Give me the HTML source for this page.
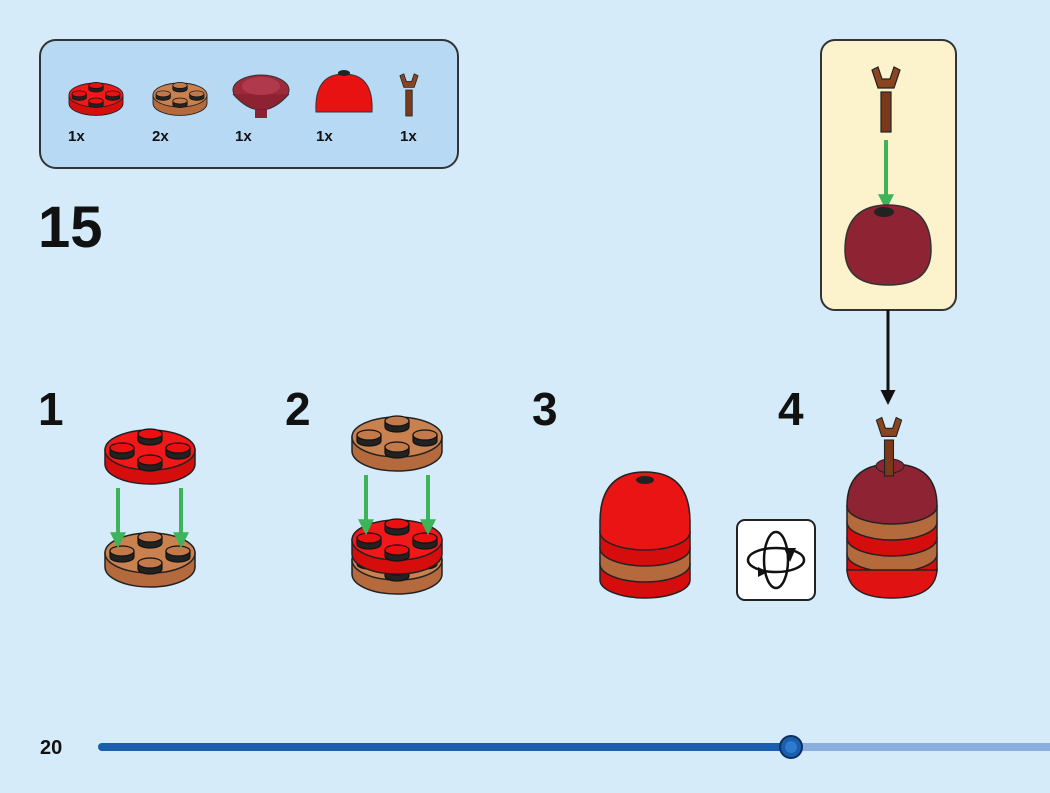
<!DOCTYPE html>
<html><head><style>
body{margin:0;background:#d5ebf9;}
svg{display:block;font-family:"Liberation Sans",sans-serif;}
</style></head><body>
<svg width="1050" height="793" viewBox="0 0 1050 793">
<defs>
<g id="redplate">
 <path d="M-45 0 v14 a45 20 0 0 0 90 0 v-14z" fill="#d60d0d" stroke="#222" stroke-width="1.5"/>
 <ellipse cx="0" cy="0" rx="45" ry="20" fill="#f01818" stroke="#222" stroke-width="1.5"/>
 <g fill="#e81010" stroke="#111" stroke-width="1.2">
  <path d="M-12 -16 v6 a12 5 0 0 0 24 0 v-6z" fill="#222"/><ellipse cx="0" cy="-16" rx="12" ry="5"/>
  <path d="M-40 -2 v6 a12 5 0 0 0 24 0 v-6z" fill="#222"/><ellipse cx="-28" cy="-2" rx="12" ry="5"/>
  <path d="M16 -2 v6 a12 5 0 0 0 24 0 v-6z" fill="#222"/><ellipse cx="28" cy="-2" rx="12" ry="5"/>
  <path d="M-12 10 v6 a12 5 0 0 0 24 0 v-6z" fill="#222"/><ellipse cx="0" cy="10" rx="12" ry="5"/>
 </g>
</g>
<g id="tanplate">
 <path d="M-45 0 v14 a45 20 0 0 0 90 0 v-14z" fill="#b56a3e" stroke="#222" stroke-width="1.5"/>
 <ellipse cx="0" cy="0" rx="45" ry="20" fill="#c8814f" stroke="#222" stroke-width="1.5"/>
 <g fill="#c27a4a" stroke="#111" stroke-width="1.2">
  <path d="M-12 -16 v6 a12 5 0 0 0 24 0 v-6z" fill="#222"/><ellipse cx="0" cy="-16" rx="12" ry="5"/>
  <path d="M-40 -2 v6 a12 5 0 0 0 24 0 v-6z" fill="#222"/><ellipse cx="-28" cy="-2" rx="12" ry="5"/>
  <path d="M16 -2 v6 a12 5 0 0 0 24 0 v-6z" fill="#222"/><ellipse cx="28" cy="-2" rx="12" ry="5"/>
  <path d="M-12 10 v6 a12 5 0 0 0 24 0 v-6z" fill="#222"/><ellipse cx="0" cy="10" rx="12" ry="5"/>
 </g>
</g>
<g id="branch">
 <rect x="-5" y="0" width="10" height="40" fill="#7a3a1a" stroke="#222" stroke-width="1.2"/>
 <path d="M-14 -22 l6 -3 l4 12 l8 0 l4 -12 l6 3 l-6 18 h-16z" fill="#8a4520" stroke="#222" stroke-width="1.2"/>
</g>
<marker id="ga" viewBox="0 0 10 10" refX="8" refY="5" markerWidth="4" markerHeight="4" orient="auto"><path d="M0 0L10 5L0 10z" fill="#3db35a"/></marker>
<marker id="ba" viewBox="0 0 10 10" refX="8" refY="5" markerWidth="5" markerHeight="5" orient="auto"><path d="M0 0L10 5L0 10z" fill="#111"/></marker>
</defs>

<!-- parts box -->
<rect x="40" y="40" width="418" height="128" rx="16" fill="#b8d9f3" stroke="#333" stroke-width="2"/>
<g transform="translate(96,95) scale(0.6)"><use href="#redplate"/></g>
<g transform="translate(180,95) scale(0.6)"><use href="#tanplate"/></g>
<g>
 <ellipse cx="261" cy="90" rx="28" ry="15" fill="#9c2a3a" stroke="#333"/>
 <path d="M233 94 q28 32 56 0" fill="#8c2232" stroke="#333"/>
 <ellipse cx="261" cy="86" rx="19" ry="9" fill="#b03a4c"/>
 <rect x="255" y="110" width="12" height="8" fill="#8c2232"/>
</g>
<path d="M316 112 q-2 -38 28 -38 q30 0 28 38z" fill="#e81212" stroke="#333"/>
<ellipse cx="344" cy="73" rx="6" ry="3" fill="#222"/>
<g transform="translate(409,90) scale(0.65)"><use href="#branch"/></g>
<g font-size="15" font-weight="bold" fill="#111">
<text x="68" y="141">1x</text><text x="152" y="141">2x</text><text x="235" y="141">1x</text><text x="316" y="141">1x</text><text x="400" y="141">1x</text>
</g>

<text x="38" y="247" font-size="58" font-weight="bold" fill="#111">15</text>

<!-- callout -->
<rect x="821" y="40" width="135" height="270" rx="14" fill="#fcf2cc" stroke="#333" stroke-width="2"/>
<use href="#branch" transform="translate(886,92)"/>
<line x1="886" y1="140" x2="886" y2="207" stroke="#3db35a" stroke-width="4" marker-end="url(#ga)"/>
<path d="M845 250 q0 -45 43 -45 q43 0 43 45 q0 35 -43 35 q-43 0 -43 -35z" fill="#8e2433" stroke="#333" stroke-width="1.5"/>
<ellipse cx="884" cy="212" rx="10" ry="5" fill="#222"/>
<line x1="888" y1="310" x2="888" y2="402" stroke="#111" stroke-width="3" marker-end="url(#ba)"/>

<!-- step numbers -->
<g font-size="46" font-weight="bold" fill="#111">
<text x="38" y="425">1</text><text x="285" y="425">2</text><text x="532" y="425">3</text><text x="778" y="425">4</text>
</g>

<!-- step 1 -->
<use href="#tanplate" transform="translate(150,553)"/>
<use href="#redplate" transform="translate(150,450)"/>
<line x1="118" y1="488" x2="118" y2="545" stroke="#3db35a" stroke-width="4" marker-end="url(#ga)"/>
<line x1="181" y1="488" x2="181" y2="545" stroke="#3db35a" stroke-width="4" marker-end="url(#ga)"/>

<!-- step 2 -->
<use href="#tanplate" transform="translate(397,560)"/>
<use href="#redplate" transform="translate(397,540)"/>
<use href="#tanplate" transform="translate(397,437)"/>
<line x1="366" y1="475" x2="366" y2="532" stroke="#3db35a" stroke-width="4" marker-end="url(#ga)"/>
<line x1="428" y1="475" x2="428" y2="532" stroke="#3db35a" stroke-width="4" marker-end="url(#ga)"/>

<!-- step 3 -->
<path d="M600 580 a45 18 0 0 0 90 0 v-16 h-90z" fill="#d60d0d" stroke="#222" stroke-width="1.5"/>
<path d="M600 564 a45 18 0 0 0 90 0 v-16 h-90z" fill="#b56a3e" stroke="#222" stroke-width="1.5"/>
<path d="M600 548 a45 18 0 0 0 90 0 v-16 h-90z" fill="#d60d0d" stroke="#222" stroke-width="1.5"/>
<path d="M600 532 a45 18 0 0 0 90 0 v-10 q0 -50 -45 -50 q-45 0 -45 50z" fill="#ea1414" stroke="#222" stroke-width="1.5"/>
<ellipse cx="645" cy="480" rx="9" ry="4" fill="#222"/>

<!-- rotate icon -->
<rect x="737" y="520" width="78" height="80" rx="8" fill="#fff" stroke="#222" stroke-width="2"/>
<ellipse cx="776" cy="560" rx="28" ry="12" fill="none" stroke="#111" stroke-width="2.5"/>
<ellipse cx="776" cy="560" rx="12" ry="28" fill="none" stroke="#111" stroke-width="2.5"/>
<path d="M784 548 l6 14 l6 -14z M768 572 l-10 -5 l0 10z" fill="#111"/>

<!-- step 4 -->
<path d="M847 570 a45 18 0 0 0 90 0 v-16 h-90z" fill="#d60d0d" stroke="#222" stroke-width="1.5"/>
<path d="M847 554 a45 18 0 0 0 90 0 v-16 h-90z" fill="#b56a3e" stroke="#222" stroke-width="1.5"/>
<path d="M847 538 a45 18 0 0 0 90 0 v-16 h-90z" fill="#d60d0d" stroke="#222" stroke-width="1.5"/>
<path d="M847 522 a45 18 0 0 0 90 0 v-16 h-90z" fill="#b56a3e" stroke="#222" stroke-width="1.5"/>
<path d="M847 570 q2 28 45 28 q43 0 45 -28z" fill="#e01212" stroke="#222" stroke-width="1.5"/>
<path d="M847 506 a45 18 0 0 0 90 0 q0 -42 -45 -42 q-45 0 -45 42z" fill="#8e2433" stroke="#222" stroke-width="1.5"/>
<ellipse cx="890" cy="466" rx="14" ry="7" fill="#8e2433" stroke="#222"/>
<use href="#branch" transform="translate(889,440) scale(0.9)"/>

<!-- progress -->
<text x="40" y="754" font-size="20" font-weight="bold" fill="#111">20</text>
<line x1="102" y1="747" x2="1050" y2="747" stroke="#8aaede" stroke-width="8" stroke-linecap="round"/>
<line x1="102" y1="747" x2="790" y2="747" stroke="#1a5fae" stroke-width="8" stroke-linecap="round"/>
<circle cx="791" cy="747" r="11" fill="#1a5fae" stroke="#0d2f60" stroke-width="2"/>
<circle cx="791" cy="747" r="6" fill="#2e7ad0"/>
</svg>
</body></html>
